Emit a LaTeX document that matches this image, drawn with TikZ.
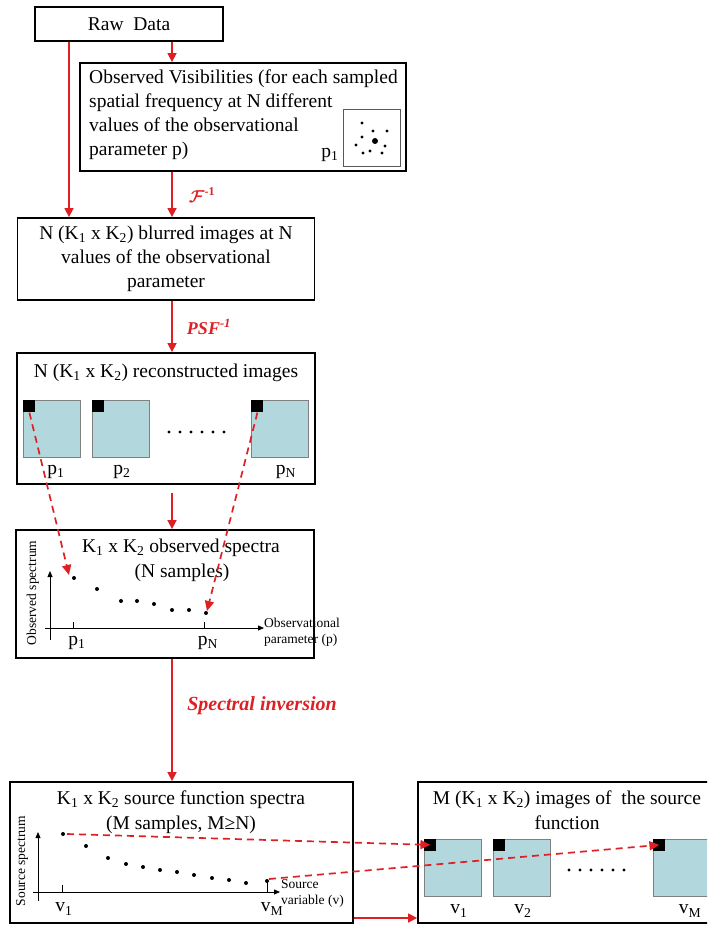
\documentclass[tikz,border=0pt]{standalone}
\usepackage{amsmath,bm}
\usepackage{fontspec}
\setmainfont{Liberation Serif}
\usetikzlibrary{arrows.meta,calc}
\definecolor{arr}{RGB}{222,32,36}
\definecolor{imgblue}{RGB}{178,216,221}
\newcommand\ssb[1]{\textsubscript{#1}}
\begin{document}
\begin{tikzpicture}[x=1pt,y=-1pt,
  box/.style={draw=black,line width=1.8pt,inner sep=0pt},
  lbl/.style={font=\fontsize{19.5}{24}\selectfont},
  sm/.style={font=\fontsize{13.5}{16}\selectfont,inner sep=0pt},
  flow/.style={draw=arr,line width=1.5pt,-{Triangle[length=9pt,width=9pt]}},
  dflow/.style={draw=arr,line width=1.7pt,dash pattern=on 7pt off 5pt,-{Triangle[length=10pt,width=9pt]}},
  red lbl/.style={text=arr,font=\fontsize{19}{22}\selectfont\bfseries\itshape},
  thumb/.style={draw=gray,fill=imgblue,line width=0.6pt,minimum size=57pt,inner sep=0pt},
  blk/.style={fill=black,minimum size=12pt,inner sep=0pt,anchor=north west},
  dot/.style={circle,fill=black,inner sep=0pt,minimum size=4pt},
  axis/.style={draw=black,line width=0.8pt,-{Triangle[length=6pt,width=5pt]}},
  tick/.style={draw=black,line width=0.8pt}]
\useasboundingbox (0,0) rectangle (707,925);
\clip (0,0) rectangle (707,925);
% helper coordinates for vertical lines
\coordinate (fx) at (172,0);
\coordinate (lx) at (69,0);
\coordinate (ry) at (0,918);
% ---------- Raw data
\node[box,lbl,minimum width=188pt,minimum height=34pt] (raw) at (129,24) {Raw\ \ Data};
% ---------- Observed visibilities
\node[box,minimum width=326pt,minimum height=108pt] (vis) at (243,117) {};
\node[lbl,anchor=north west,align=left,inner sep=0pt] (vistext) at (89,70)
  {Observed Visibilities (for each sampled\\spatial frequency at N different\\values of the observational\\parameter p)};
\node[draw=gray!70!black,line width=0.8pt,minimum width=57pt,minimum height=57pt,inner sep=0pt] (uv) at (371.5,137.5) {};
\foreach \px/\py in {362/123,373/131,387/131,362/137,356/145,385/146,363/153,370/151,382/153}
  \fill (\px,\py) circle (1.7pt);
\fill (375,141) circle (3pt);
\node[lbl,inner sep=0pt] (visp) at (330,155) {p\ssb{1}};
% ---------- Blurred images
\node[box,lbl,minimum width=297pt,minimum height=82pt,align=center] (blur) at (166,259)
  {N (K\ssb{1} x K\ssb{2}) blurred images at N\\values of the observational\\parameter};
\draw[flow] (raw.south -| fx) -- (vis.north -| fx);
\draw[flow] (raw.south -| lx) -- (blur.north -| lx);
\draw[flow] (vis.south -| fx) -- (blur.north -| fx);
\node[text=arr,inner sep=0pt,font=\fontsize{17}{20}\selectfont] (finv) at (202,195) {$\bm{\mathcal{F}}^{\textbf{-1}}$};
% ---------- Reconstructed images
\node[box,minimum width=298pt,minimum height=131pt] (rec) at (166,418.5) {};
\node[lbl,inner sep=0pt] (rect) at (166,373) {N (K\ssb{1} x K\ssb{2}) reconstructed images};
\draw[flow] (blur.south -| fx) -- (rec.north -| fx);
\node[red lbl,font=\fontsize{18}{20}\selectfont\bfseries\itshape,inner sep=0pt] (psf) at (209,327) {PSF\textsuperscript{-1}};
\node[thumb] (r1) at (52,429) {};
\node[thumb] (r2) at (120.5,429) {};
\node[thumb] (r3) at (280,429) {};
\node[blk] (r1b) at (r1.north west) {};
\node[blk] (r2b) at (r2.north west) {};
\node[blk] (r3b) at (r3.north west) {};
\foreach \px in {169,180,191,202,213,224} \fill (\px,432) circle (1.6pt);
\node[lbl,inner sep=0pt] (rp1) at (56,472) {p\ssb{1}};
\node[lbl,inner sep=0pt] (rp2) at (122,472) {p\ssb{2}};
\node[lbl,inner sep=0pt] (rpn) at (286,472) {p\ssb{N}};
% ---------- Observed spectra
\node[box,minimum width=298pt,minimum height=128pt] (obs) at (165,594) {};
\draw[flow] ($(rec.south -| fx)+(0,8)$) -- (obs.north -| fx);
\node[lbl,inner sep=0pt] (obst1) at (181,548) {K\ssb{1} x K\ssb{2} observed spectra};
\node[lbl,inner sep=0pt] (obst2) at (182,573) {(N samples)};
\draw[axis] (50,640) -- (50,571);
\draw[axis] (45,628) -- (264,628);
\draw[tick] (73,628) -- (73,622);
\draw[tick] (204,628) -- (204,622);
\foreach \i/\px/\py in {1/74/578,2/97/589,3/121/601,4/137/601,5/154/604,6/172/610,7/189/610,8/206/613}
  \node[dot] (od\i) at (\px,\py) {};
\node[lbl,inner sep=0pt] (op1) at (77,643) {p\ssb{1}};
\node[lbl,inner sep=0pt] (opn) at (208,643) {p\ssb{N}};
\node[sm,anchor=west,align=left] (oxl) at (264,632) {Observational\\parameter (p)};
\node[sm,rotate=90] (oyl) at (33,593) {Observed spectrum};
\draw[dflow] (r1b.south) -- ($(od1)+(-5,-3)$);
\draw[dflow] (r3b.south) -- ($(od8)+(1,-2)$);
% ---------- Source function spectra
\node[box,minimum width=343pt,minimum height=141pt] (src) at (181.5,852.5) {};
\draw[flow] (obs.south -| fx) -- (src.north -| fx);
\node[red lbl,font=\fontsize{20}{22}\selectfont\bfseries\itshape,inner sep=0pt] (spinv) at (262,706) {Spectral inversion};
\node[lbl,inner sep=0pt] (srct1) at (181,800) {K\ssb{1} x K\ssb{2} source function spectra};
\node[lbl,inner sep=0pt] (srct2) at (181,825) {(M samples, M≥N)};
\draw[axis] (38,901) -- (38,832);
\draw[axis] (33,892) -- (280,892);
\draw[tick] (62,892) -- (62,885);
\draw[tick] (267,892) -- (267,882);
\foreach \i/\px/\py in {1/63/834,2/86/846,3/108/858,4/126/864,5/143/867,6/160/870,7/177/872,8/194/875,9/212/878,10/229/880,11/246/883,12/267/881}
  \node[dot] (sd\i) at (\px,\py) {};
\node[lbl,inner sep=0pt] (sv1) at (64,909) {v\ssb{1}};
\node[lbl,inner sep=0pt] (svm) at (272,909) {v\ssb{M}};
\node[sm,anchor=west,align=left] (sxl) at (281,893) {Source\\variable (v)};
\node[sm,rotate=90] (syl) at (22,861) {Source spectrum};
% ---------- Images of the source function
\node[box,minimum width=300pt,minimum height=141pt] (imgs) at (568,852.5) {};
\node[lbl,inner sep=0pt] (imgt1) at (567,800) {M (K\ssb{1} x K\ssb{2}) images of\ \ the source};
\node[lbl,inner sep=0pt] (imgt2) at (567,823) {function};
\node[thumb] (i1) at (453,867.5) {};
\node[thumb] (i2) at (521.5,867.5) {};
\node[thumb] (i3) at (682,867.5) {};
\node[blk] (i1b) at (i1.north west) {};
\node[blk] (i2b) at (i2.north west) {};
\node[blk] (i3b) at (i3.north west) {};
\foreach \px in {569,580,591,602,613,624} \fill (\px,870) circle (1.6pt);
\node[lbl,inner sep=0pt] (iv1) at (459,911) {v\ssb{1}};
\node[lbl,inner sep=0pt] (iv2) at (523,911) {v\ssb{2}};
\node[lbl,inner sep=0pt] (ivm) at (690,911) {v\ssb{M}};
\draw[dflow] ($(sd1)+(4,0)$) -- (i1b.center);
\draw[dflow] ($(sd12)+(2,-2)$) -- (i3b.center);
\draw[flow] (src.east |- ry) -- (imgs.west |- ry);
\end{tikzpicture}
\end{document}
